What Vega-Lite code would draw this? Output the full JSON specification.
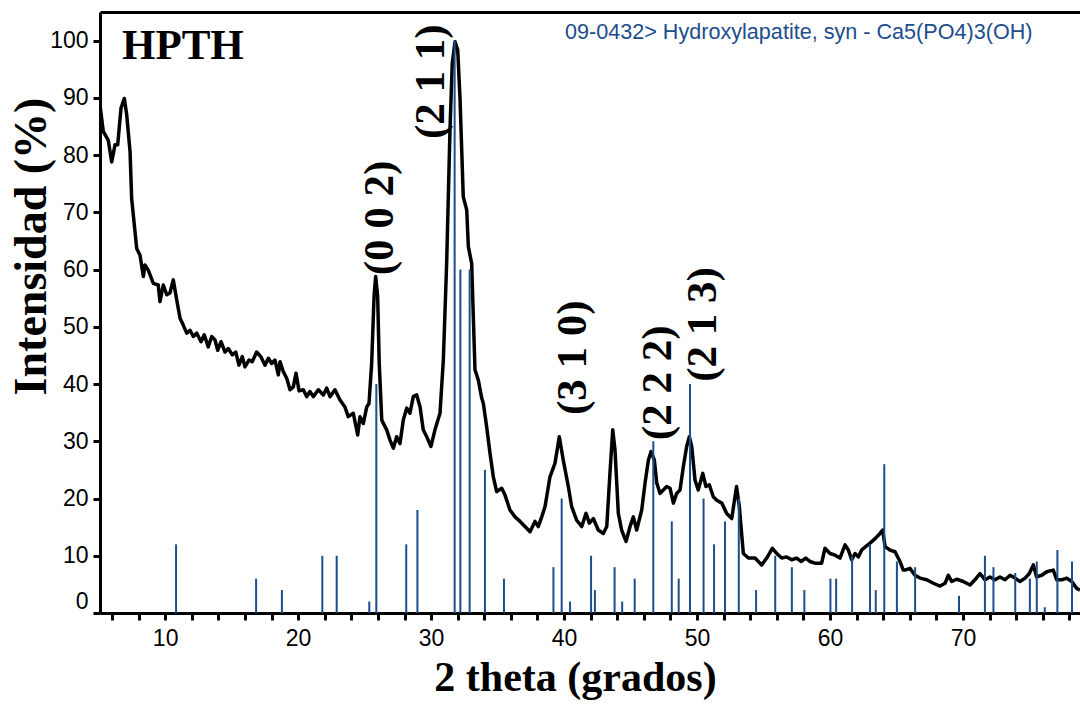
{
  "$schema": "https://vega.github.io/schema/vega-lite/v6.json",
  "width": 980,
  "height": 601,
  "autosize": {"type": "none"},
  "padding": {"left": 100, "top": 12, "right": 0, "bottom": 92},
  "background": "white",
  "config": {"view": {"stroke": null}},
  "datasets": {
    "curve": [
      {"t":5.10,"i":88.7},{"t":5.35,"i":84.1},{"t":5.72,"i":82.6},{"t":5.98,"i":78.8},{"t":6.23,"i":81.8},{"t":6.43,"i":81.8},{"t":6.68,"i":88.2},{"t":6.93,"i":89.9},{"t":7.11,"i":87.0},{"t":7.36,"i":80.6},{"t":7.48,"i":72.4},{"t":7.68,"i":67.8},{"t":7.86,"i":63.7},{"t":8.11,"i":62.5},{"t":8.36,"i":58.8},{"t":8.48,"i":60.8},{"t":8.73,"i":59.9},{"t":9.11,"i":57.6},{"t":9.48,"i":57.3},{"t":9.61,"i":54.4},{"t":9.86,"i":57.3},{"t":10.12,"i":55.6},{"t":10.36,"i":55.9},{"t":10.61,"i":58.2},{"t":10.87,"i":54.7},{"t":11.12,"i":51.5},{"t":11.36,"i":50.3},{"t":11.62,"i":48.9},{"t":11.87,"i":49.4},{"t":12.12,"i":48.3},{"t":12.37,"i":48.9},{"t":12.70,"i":47.4},{"t":12.94,"i":48.6},{"t":13.24,"i":46.5},{"t":13.50,"i":48.3},{"t":13.75,"i":47.7},{"t":13.95,"i":45.9},{"t":14.20,"i":47.4},{"t":14.50,"i":45.6},{"t":14.75,"i":46.2},{"t":15.05,"i":45.1},{"t":15.31,"i":45.6},{"t":15.55,"i":43.3},{"t":15.80,"i":44.8},{"t":16.00,"i":43.0},{"t":16.31,"i":44.2},{"t":16.55,"i":43.9},{"t":16.88,"i":45.6},{"t":17.19,"i":44.8},{"t":17.51,"i":43.3},{"t":17.76,"i":44.5},{"t":18.01,"i":43.6},{"t":18.26,"i":44.2},{"t":18.51,"i":41.6},{"t":18.64,"i":43.9},{"t":18.88,"i":42.2},{"t":19.14,"i":41.0},{"t":19.39,"i":39.0},{"t":19.64,"i":39.5},{"t":19.84,"i":41.9},{"t":20.07,"i":38.8},{"t":20.39,"i":39.0},{"t":20.65,"i":37.8},{"t":20.89,"i":38.7},{"t":21.14,"i":37.8},{"t":21.52,"i":39.0},{"t":21.90,"i":38.1},{"t":22.15,"i":39.3},{"t":22.40,"i":37.8},{"t":22.77,"i":39.0},{"t":23.15,"i":37.2},{"t":23.52,"i":36.0},{"t":23.77,"i":34.3},{"t":24.15,"i":34.9},{"t":24.48,"i":31.1},{"t":24.65,"i":34.3},{"t":24.90,"i":33.1},{"t":25.16,"i":36.0},{"t":25.33,"i":36.6},{"t":25.53,"i":43.6},{"t":25.71,"i":55.3},{"t":25.83,"i":58.8},{"t":25.98,"i":55.3},{"t":26.10,"i":43.6},{"t":26.29,"i":33.7},{"t":26.66,"i":32.0},{"t":26.91,"i":30.2},{"t":27.16,"i":28.8},{"t":27.41,"i":30.8},{"t":27.66,"i":29.6},{"t":27.91,"i":33.7},{"t":28.17,"i":35.8},{"t":28.41,"i":34.9},{"t":28.66,"i":37.8},{"t":28.92,"i":38.1},{"t":29.17,"i":36.0},{"t":29.41,"i":32.0},{"t":29.67,"i":30.8},{"t":29.99,"i":29.1},{"t":30.29,"i":32.0},{"t":30.67,"i":34.9},{"t":30.92,"i":44.2},{"t":31.17,"i":61.1},{"t":31.42,"i":84.4},{"t":31.59,"i":96.0},{"t":31.80,"i":99.8},{"t":32.00,"i":98.4},{"t":32.17,"i":90.2},{"t":32.42,"i":72.7},{"t":32.68,"i":70.4},{"t":32.80,"i":64.0},{"t":33.05,"i":61.1},{"t":33.30,"i":42.5},{"t":33.55,"i":40.7},{"t":33.81,"i":37.5},{"t":33.93,"i":36.6},{"t":34.18,"i":32.5},{"t":34.43,"i":27.9},{"t":34.68,"i":23.8},{"t":34.93,"i":21.2},{"t":35.31,"i":21.8},{"t":35.56,"i":20.6},{"t":35.93,"i":18.0},{"t":36.31,"i":16.8},{"t":36.69,"i":16.0},{"t":37.06,"i":15.1},{"t":37.44,"i":14.2},{"t":37.81,"i":16.0},{"t":38.06,"i":15.1},{"t":38.32,"i":16.8},{"t":38.57,"i":18.6},{"t":38.94,"i":23.8},{"t":39.32,"i":26.2},{"t":39.64,"i":30.8},{"t":39.94,"i":26.7},{"t":40.32,"i":22.1},{"t":40.57,"i":18.6},{"t":40.95,"i":16.2},{"t":41.33,"i":15.1},{"t":41.65,"i":17.4},{"t":41.90,"i":15.7},{"t":42.20,"i":16.5},{"t":42.57,"i":14.5},{"t":42.95,"i":13.9},{"t":43.21,"i":15.1},{"t":43.45,"i":24.4},{"t":43.66,"i":32.0},{"t":43.83,"i":28.5},{"t":44.08,"i":17.4},{"t":44.33,"i":14.5},{"t":44.66,"i":12.5},{"t":44.96,"i":15.1},{"t":45.21,"i":16.8},{"t":45.46,"i":14.5},{"t":45.84,"i":18.0},{"t":46.09,"i":22.7},{"t":46.34,"i":26.7},{"t":46.54,"i":28.2},{"t":46.79,"i":26.7},{"t":46.97,"i":22.7},{"t":47.22,"i":20.9},{"t":47.46,"i":21.5},{"t":47.72,"i":22.1},{"t":47.97,"i":21.8},{"t":48.22,"i":19.2},{"t":48.47,"i":20.9},{"t":48.72,"i":21.5},{"t":48.97,"i":25.6},{"t":49.22,"i":29.1},{"t":49.42,"i":30.8},{"t":49.60,"i":29.1},{"t":49.85,"i":23.2},{"t":50.09,"i":21.5},{"t":50.43,"i":24.4},{"t":50.67,"i":22.1},{"t":50.92,"i":22.4},{"t":51.22,"i":20.3},{"t":51.48,"i":19.7},{"t":51.86,"i":19.2},{"t":52.23,"i":17.4},{"t":52.61,"i":16.5},{"t":52.97,"i":22.1},{"t":53.18,"i":18.6},{"t":53.48,"i":10.4},{"t":53.86,"i":9.6},{"t":54.36,"i":9.6},{"t":54.86,"i":8.4},{"t":55.24,"i":9.6},{"t":55.66,"i":11.3},{"t":55.99,"i":10.4},{"t":56.37,"i":9.6},{"t":56.74,"i":9.8},{"t":57.12,"i":9.3},{"t":57.49,"i":9.6},{"t":57.82,"i":9.0},{"t":58.17,"i":9.6},{"t":58.49,"i":9.0},{"t":58.87,"i":8.7},{"t":59.37,"i":8.7},{"t":59.62,"i":11.3},{"t":60.00,"i":10.4},{"t":60.38,"i":10.1},{"t":60.75,"i":9.6},{"t":61.13,"i":11.9},{"t":61.38,"i":11.0},{"t":61.63,"i":9.3},{"t":61.88,"i":10.4},{"t":62.13,"i":9.8},{"t":62.38,"i":11.0},{"t":62.68,"i":11.6},{"t":63.01,"i":12.2},{"t":63.39,"i":13.0},{"t":63.76,"i":13.9},{"t":63.96,"i":14.5},{"t":64.14,"i":11.6},{"t":64.51,"i":11.0},{"t":64.89,"i":10.7},{"t":65.26,"i":9.0},{"t":65.51,"i":7.5},{"t":65.64,"i":7.5},{"t":66.01,"i":7.8},{"t":66.39,"i":6.6},{"t":66.77,"i":6.1},{"t":67.27,"i":5.8},{"t":67.77,"i":5.2},{"t":68.27,"i":4.7},{"t":68.65,"i":5.2},{"t":68.90,"i":6.6},{"t":69.15,"i":5.5},{"t":69.53,"i":5.9},{"t":70.02,"i":5.5},{"t":70.53,"i":4.9},{"t":70.90,"i":5.8},{"t":71.28,"i":6.9},{"t":71.66,"i":5.8},{"t":72.03,"i":6.3},{"t":72.41,"i":5.8},{"t":72.78,"i":6.3},{"t":73.16,"i":5.8},{"t":73.54,"i":6.6},{"t":73.91,"i":6.1},{"t":74.29,"i":5.5},{"t":74.67,"i":6.1},{"t":74.99,"i":6.9},{"t":75.29,"i":8.4},{"t":75.54,"i":6.3},{"t":75.92,"i":6.6},{"t":76.30,"i":7.2},{"t":76.79,"i":7.5},{"t":77.05,"i":5.8},{"t":77.42,"i":5.8},{"t":77.80,"i":6.1},{"t":78.18,"i":5.5},{"t":78.55,"i":4.3},{"t":78.80,"i":4.0}
    ],
    "sticks": [
      {"t":10.82,"i":12},{"t":16.84,"i":6},{"t":18.78,"i":4},{"t":21.82,"i":10},{"t":22.90,"i":10},{"t":25.35,"i":2},{"t":25.88,"i":40},{"t":28.13,"i":12},{"t":28.97,"i":18},{"t":31.77,"i":100},{"t":32.20,"i":60},{"t":32.90,"i":60},{"t":34.05,"i":25},{"t":35.48,"i":6},{"t":39.20,"i":8},{"t":39.82,"i":20},{"t":40.45,"i":2},{"t":42.03,"i":10},{"t":42.32,"i":4},{"t":43.80,"i":8},{"t":44.37,"i":2},{"t":45.31,"i":6},{"t":46.71,"i":30},{"t":48.10,"i":16},{"t":48.62,"i":6},{"t":49.47,"i":40},{"t":50.49,"i":20},{"t":51.28,"i":12},{"t":52.10,"i":16},{"t":53.14,"i":20},{"t":54.44,"i":4},{"t":55.88,"i":10},{"t":57.13,"i":8},{"t":58.07,"i":4},{"t":60.03,"i":6},{"t":60.46,"i":6},{"t":61.66,"i":10},{"t":63.01,"i":12},{"t":63.44,"i":4},{"t":64.08,"i":26},{"t":65.03,"i":9},{"t":66.40,"i":8},{"t":69.70,"i":3},{"t":71.65,"i":10},{"t":72.29,"i":8},{"t":73.93,"i":7},{"t":75.03,"i":6},{"t":75.55,"i":9},{"t":76.15,"i":1},{"t":77.10,"i":11},{"t":78.20,"i":9}
    ],
    "hkl": [
      {"t":26.16,"i":59.0,"label":"(0 0 2)"},
      {"t":30.00,"i":82.8,"label":"(2 1 1)"},
      {"t":40.67,"i":34.6,"label":"(3 1 0)"},
      {"t":47.06,"i":30.2,"label":"(2 2 2)"},
      {"t":50.45,"i":40.4,"label":"(2 1 3)"}
    ],
    "sample": [{"t":6.75,"i":96.8,"label":"HPTH"}],
    "ref": [{"t":40.07,"i":100.2,"label":"09-0432> Hydroxylapatite, syn - Ca5(PO4)3(OH)"}]
  },
  "resolve": {"axis": {"x": "independent", "y": "independent"}},
  "layer": [
    {
      "data": {"name": "curve"},
      "mark": {"type": "line", "color": "black", "strokeWidth": 3.5, "strokeJoin": "round", "clip": true},
      "encoding": {
        "x": {"field": "t", "type": "quantitative", "scale": {"domain": [5.1, 78.8], "nice": false, "zero": false},
          "axis": {"orient": "bottom", "values": [6,8,10,12,14,16,18,20,22,24,26,28,30,32,34,36,38,40,42,44,46,48,50,52,54,56,58,60,62,64,66,68,70,72,74,76,78],
            "labelExpr": "datum.value % 10 === 0 ? datum.label : ''", "labelFlush": false, "labelOverlap": false,
            "domainColor": "black", "domainWidth": 3, "tickColor": "black", "tickWidth": 3, "tickSize": 7,
            "labelFont": "Liberation Sans", "labelFontSize": 23, "labelColor": "black", "labelPadding": 7,
            "grid": false, "title": "2 theta (grados)", "titleFont": "Liberation Serif", "titleFontSize": 42, "titleFontWeight": "bold",
            "titleColor": "black", "titleX": 475, "titleY": 77, "titleBaseline": "alphabetic", "titleAlign": "center"}},
        "y": {"field": "i", "type": "quantitative", "scale": {"domain": [0, 105], "nice": false, "zero": false},
          "axis": {"orient": "left", "values": [0,10,20,30,40,50,60,70,80,90,100], "labelFlush": true, "grid": false,
            "domainColor": "black", "domainWidth": 3, "tickColor": "black", "tickWidth": 3, "tickSize": 7,
            "labelFont": "Liberation Sans", "labelFontSize": 23, "labelColor": "black", "labelPadding": 5,
            "title": "Intensidad (%)", "titleFont": "Liberation Serif", "titleFontSize": 46, "titleFontWeight": "bold",
            "titleColor": "black", "titleX": -55, "titleY": 234, "titleBaseline": "alphabetic", "titleAlign": "center", "titleAngle": 270}}
      }
    },
    {
      "data": {"name": "sticks"},
      "mark": {"type": "rule", "color": "#1c4d8c", "strokeWidth": 2},
      "encoding": {
        "x": {"field": "t", "type": "quantitative",
          "axis": {"orient": "top", "labels": false, "ticks": false, "grid": false, "title": null, "domainColor": "black", "domainWidth": 3}},
        "y": {"field": "i", "type": "quantitative", "axis": null},
        "y2": {"datum": 0}
      }
    },
    {
      "data": {"name": "hkl"},
      "mark": {"type": "text", "angle": 270, "align": "left", "baseline": "middle", "font": "Liberation Serif", "fontWeight": "bold", "fontSize": 43, "color": "black"},
      "encoding": {
        "x": {"field": "t", "type": "quantitative", "axis": null},
        "y": {"field": "i", "type": "quantitative", "axis": null},
        "text": {"field": "label"}
      }
    },
    {
      "data": {"name": "sample"},
      "mark": {"type": "text", "align": "left", "baseline": "alphabetic", "font": "Liberation Serif", "fontWeight": "bold", "fontSize": 43, "color": "black"},
      "encoding": {
        "x": {"field": "t", "type": "quantitative", "axis": null},
        "y": {"field": "i", "type": "quantitative", "axis": null},
        "text": {"field": "label"}
      }
    },
    {
      "data": {"name": "ref"},
      "mark": {"type": "text", "align": "left", "baseline": "alphabetic", "font": "Liberation Sans", "fontSize": 21.6, "color": "#1c4d8c"},
      "encoding": {
        "x": {"field": "t", "type": "quantitative", "axis": null},
        "y": {"field": "i", "type": "quantitative", "axis": null},
        "text": {"field": "label"}
      }
    }
  ]
}
